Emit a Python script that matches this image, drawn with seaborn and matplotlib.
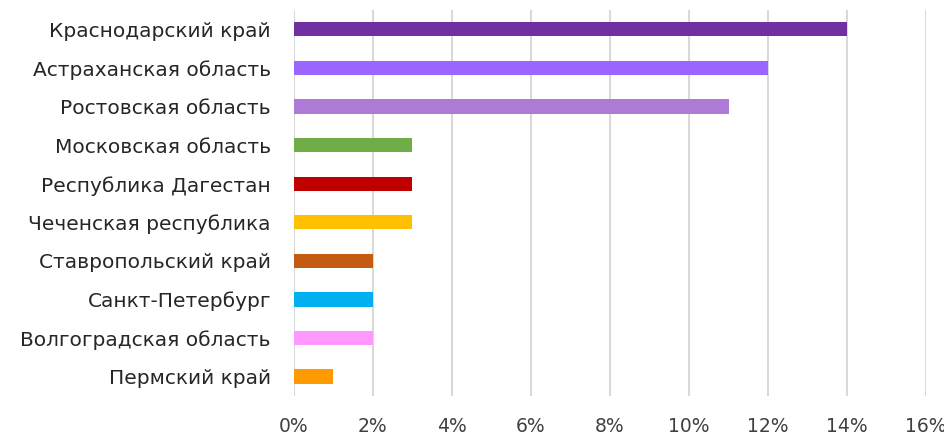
import numpy as np
import matplotlib
matplotlib.use("Agg")
import matplotlib.pyplot as plt
import pandas as pd
import seaborn as sns
from matplotlib.ticker import FuncFormatter

regions = ["Краснодарский край", "Астраханская область", "Ростовская область",
           "Московская область", "Республика Дагестан", "Чеченская республика",
           "Ставропольский край", "Санкт-Петербург", "Волгоградская область",
           "Пермский край"]
shares = [14, 12, 11, 3, 3, 3, 2, 2, 2, 1]
colors = ["#7030A0", "#9966FF", "#AD7BD6", "#70AD47", "#C00000",
          "#FFC000", "#C55A11", "#00B0F0", "#FF99FF", "#FF9900"]
xticks = [0, 2, 4, 6, 8, 10, 12, 14, 16]

sns.set_style("white")
plt.rcParams["font.family"] = ["DejaVu Sans"]

df = pd.DataFrame({"region": regions, "share": shares})

fig = plt.figure(figsize=(9.45, 4.36), dpi=100)
ax = fig.add_axes([0.311, 0.092, 0.669, 0.885])

sns.barplot(data=df, y="region", x="share", hue="region", palette=colors,
            order=regions, legend=False, width=0.37, saturation=1,
            ax=ax, zorder=3, linewidth=0)

ax.set_xlim(0, 16)
ax.set_xticks(xticks)
ax.xaxis.set_major_formatter(FuncFormatter(lambda v, p: f"{v:.0f}%"))
ax.grid(axis="x", color="#D9D9D9", linewidth=1.5, zorder=0)
for s in ax.spines.values():
    s.set_visible(False)
ax.tick_params(axis="x", length=0, pad=15, labelsize=13.5, labelcolor="#404040")
ax.tick_params(axis="y", length=0, pad=16.5, labelsize=14.5, labelcolor="#262626")
ax.set_xlabel("")
ax.set_ylabel("")

plt.savefig("out.png", dpi=100)
